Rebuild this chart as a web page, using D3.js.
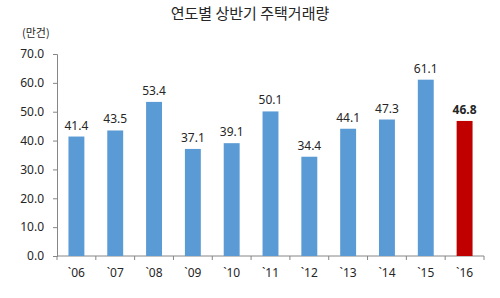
<!DOCTYPE html>
<html>
<head>
<meta charset="utf-8">
<script src="https://cdn.jsdelivr.net/npm/d3@7/dist/d3.min.js"></script>
<style>
  body { margin: 0; background: #fff; }
  text { font-family: "Noto Sans", "Noto Sans CJK KR", sans-serif; fill: #262626; }
</style>
</head>
<body>
<svg id="chart" width="500" height="298"></svg>
<script>
// 연도별 상반기 주택거래량 (만건)
var years = ["`06", "`07", "`08", "`09", "`10", "`11", "`12", "`13", "`14", "`15", "`16"];
var volumes = [41.4, 43.5, 53.4, 37.1, 39.1, 50.1, 34.4, 44.1, 47.3, 61.1, 46.8];
var yTicks = [0, 10, 20, 30, 40, 50, 60, 70];

var data = years.map(function(y, i) { return {year: y, value: volumes[i]}; });
var last = years[years.length - 1];

var svg = d3.select("#chart");
var margin = {left: 57, right: 16, top: 54, bottom: 42};
var width = 500, height = 298;

var x = d3.scaleBand()
    .domain(years)
    .range([margin.left, width - margin.right])
    .paddingInner(0.59)
    .paddingOuter(0.295);

var y = d3.scaleLinear()
    .domain([0, 70])
    .range([height - margin.bottom, margin.top]);

// title
svg.append("text")
    .attr("x", 250).attr("y", 19)
    .attr("text-anchor", "middle")
    .style("font-family", "'Noto Sans CJK KR', sans-serif")
    .style("font-size", "15px")
    .text("연도별 상반기 주택거래량");

svg.append("text")
    .attr("x", 22).attr("y", 37)
    .style("font-family", "'Noto Sans CJK KR', sans-serif")
    .style("font-size", "11px")
    .text("(만건)");

// y axis
var yAxis = svg.append("g")
    .attr("transform", "translate(" + margin.left + ",0)")
    .call(d3.axisLeft(y).tickValues(yTicks).tickFormat(d3.format(".1f")).tickSize(4).tickPadding(9));
yAxis.select(".domain").attr("stroke", "#868686");
yAxis.selectAll(".tick line").attr("stroke", "#868686");
yAxis.selectAll("text").style("font-size", "12px").style("font-family", "'Noto Sans', sans-serif").attr("fill", "#262626");

// x axis with ticks between categories
var xAxisG = svg.append("g")
    .attr("transform", "translate(0," + y(0) + ")");
xAxisG.append("line")
    .attr("x1", margin.left).attr("x2", width - margin.right)
    .attr("stroke", "#868686");
var step = x.step();
xAxisG.selectAll(".sep")
    .data(d3.range(years.length + 1))
    .enter().append("line")
    .attr("x1", function(i) { return margin.left + i * step; })
    .attr("x2", function(i) { return margin.left + i * step; })
    .attr("y1", 0).attr("y2", 4)
    .attr("stroke", "#868686");
xAxisG.selectAll(".lbl")
    .data(years)
    .enter().append("text")
    .attr("x", function(d) { return x(d) + x.bandwidth() / 2; })
    .attr("y", 21)
    .attr("text-anchor", "middle")
    .style("font-size", "12px")
    .text(function(d) { return d; });

// bars
svg.selectAll(".bar")
    .data(data)
    .enter().append("rect")
    .attr("x", function(d) { return x(d.year); })
    .attr("width", x.bandwidth())
    .attr("y", function(d) { return y(d.value); })
    .attr("height", function(d) { return y(0) - y(d.value); })
    .attr("fill", function(d) { return d.year === last ? "#c00000" : "#5b9bd5"; });

// value labels
svg.selectAll(".val")
    .data(data)
    .enter().append("text")
    .attr("x", function(d) { return x(d.year) + x.bandwidth() / 2; })
    .attr("y", function(d) { return y(d.value) - 7; })
    .attr("text-anchor", "middle")
    .style("font-size", "12px")
    .style("font-weight", function(d) { return d.year === last ? "bold" : "normal"; })
    .text(function(d) { return d.value.toFixed(1); });
</script>
</body>
</html>
